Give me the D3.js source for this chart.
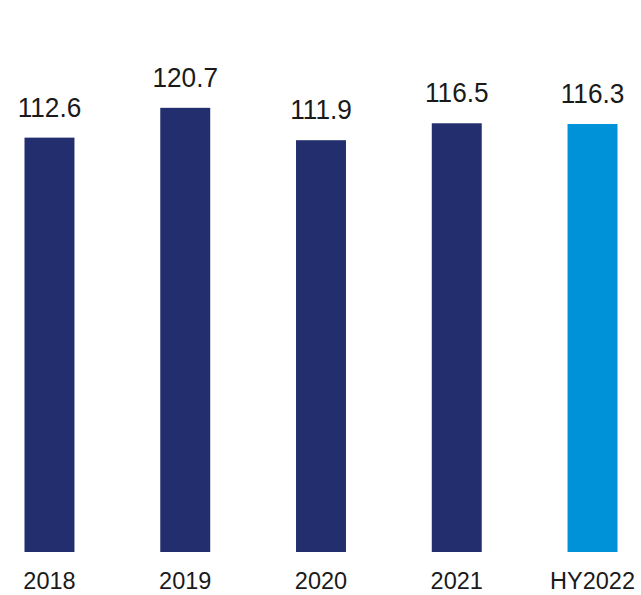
<!DOCTYPE html>
<html>
<head>
<meta charset="utf-8">
<script src="https://cdn.jsdelivr.net/npm/d3@7"></script>
<style>
  body { margin: 0; background: #fff; }
  text { font-family: "Liberation Sans", Arial, sans-serif; fill: #1a1a1a; }
</style>
</head>
<body>
<div id="chart"></div>
<script>
const categories = ['2018', '2019', '2020', '2021', 'HY2022'];
const values = [112.6, 120.7, 111.9, 116.5, 116.3];
const barColors = ['#232e6e', '#232e6e', '#232e6e', '#232e6e', '#0092d8'];

const width = 641, height = 595;
const baseline = 552;

const svg = d3.select('#chart')
    .append('svg')
    .attr('width', width)
    .attr('height', height);

// bands centred on each step, bar about 50px wide
const x = d3.scaleBand()
    .domain(categories)
    .range([-18.4, 660.4])
    .paddingInner(0.632)
    .paddingOuter(0.316);

const y = d3.scaleLinear()
    .domain([0, 150])
    .range([baseline, 0]);

const data = categories.map((c, i) => ({ cat: c, val: values[i], color: barColors[i] }));

svg.selectAll('rect').data(data)
    .join('rect')
    .attr('x', d => x(d.cat))
    .attr('y', d => y(d.val))
    .attr('width', x.bandwidth())
    .attr('height', d => baseline - y(d.val))
    .attr('fill', d => d.color);

// value labels, slightly condensed like the source
svg.selectAll('text.val').data(data)
    .join('text')
    .attr('class', 'val')
    .attr('transform', d => `translate(${x(d.cat) + x.bandwidth() / 2},${y(d.val) - 21}) scale(0.92,1)`)
    .attr('text-anchor', 'middle')
    .attr('font-size', 28.5)
    .text(d => d.val.toFixed(1));

// category axis, no line or ticks
const axis = svg.append('g')
    .attr('transform', `translate(0,${baseline})`)
    .call(d3.axisBottom(x).tickSize(0).tickPadding(0));
axis.select('.domain').remove();
axis.selectAll('text')
    .attr('dy', null)
    .attr('y', 37)
    .attr('font-size', 23.5)
    .attr('transform', 'scale(1,1)')
    .attr('font-family', '"Liberation Sans", Arial, sans-serif')
    .attr('fill', '#1a1a1a');
</script>
</body>
</html>
